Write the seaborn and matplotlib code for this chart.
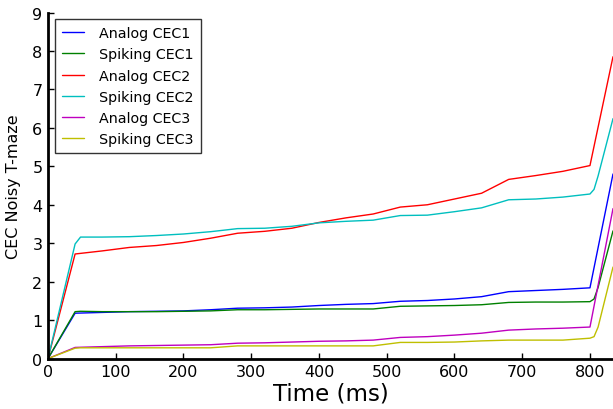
import numpy as np
import pandas as pd
import matplotlib
matplotlib.use("Agg")
import matplotlib.pyplot as plt
import seaborn as sns

# time grids (ms)
t_analog = [0, 40, 80, 120, 160, 200, 240, 280, 320, 360, 400, 440, 480,
            520, 560, 600, 640, 680, 720, 760, 800, 834]
t_spiking = [0, 40, 48, 80, 120, 160, 200, 240, 280, 320, 360, 400, 440, 480,
             520, 560, 600, 640, 680, 720, 760, 800, 806, 812, 834]

analog_cec1 = [0, 1.18, 1.20, 1.22, 1.23, 1.24, 1.27, 1.31, 1.32, 1.34, 1.38, 1.41,
               1.43, 1.49, 1.51, 1.55, 1.61, 1.74, 1.77, 1.80, 1.84, 4.80]
analog_cec2 = [0, 2.72, 2.80, 2.89, 2.94, 3.02, 3.13, 3.26, 3.31, 3.39, 3.54, 3.66,
               3.76, 3.94, 4.00, 4.15, 4.30, 4.66, 4.76, 4.87, 5.02, 7.85]
analog_cec3 = [0, 0.29, 0.31, 0.33, 0.34, 0.35, 0.36, 0.40, 0.41, 0.43, 0.45, 0.46,
               0.48, 0.55, 0.57, 0.61, 0.66, 0.74, 0.77, 0.79, 0.82, 3.90]

spiking_cec1 = [0, 1.22, 1.23, 1.22, 1.22, 1.22, 1.23, 1.24, 1.27, 1.27, 1.28, 1.29,
                1.29, 1.29, 1.36, 1.37, 1.38, 1.40, 1.46, 1.47, 1.47, 1.48, 1.55, 1.85, 3.32]
spiking_cec2 = [0, 2.98, 3.16, 3.16, 3.17, 3.20, 3.24, 3.30, 3.38, 3.39, 3.44, 3.53,
                3.57, 3.60, 3.72, 3.73, 3.82, 3.92, 4.13, 4.15, 4.20, 4.28, 4.40, 4.75, 6.24]
spiking_cec3 = [0, 0.27, 0.28, 0.28, 0.28, 0.28, 0.28, 0.28, 0.33, 0.33, 0.33, 0.33,
                0.33, 0.33, 0.42, 0.42, 0.43, 0.46, 0.48, 0.48, 0.48, 0.53, 0.57, 0.82, 2.38]

labels = ["Analog CEC1", "Spiking CEC1", "Analog CEC2",
          "Spiking CEC2", "Analog CEC3", "Spiking CEC3"]
colors = ["b", "g", "r", "c", "m", "y"]
series = [(t_analog, analog_cec1), (t_spiking, spiking_cec1),
          (t_analog, analog_cec2), (t_spiking, spiking_cec2),
          (t_analog, analog_cec3), (t_spiking, spiking_cec3)]

frames = []
for lab, (t, v) in zip(labels, series):
    frames.append(pd.DataFrame({"time": t, "value": v, "run": lab}))
df = pd.concat(frames, ignore_index=True)

sns.set_style("white")
plt.rcParams["font.family"] = ["DejaVu Sans"]
plt.rcParams["text.color"] = "black"
plt.rcParams["axes.labelcolor"] = "black"
plt.rcParams["xtick.color"] = "black"
plt.rcParams["ytick.color"] = "black"

fig = plt.figure(figsize=(6.13, 4.10), dpi=100)
ax = fig.add_axes([0.0783, 0.123, 0.9217, 0.844])

sns.lineplot(data=df, x="time", y="value", hue="run", hue_order=labels,
             palette=dict(zip(labels, colors)), estimator=None, sort=False,
             linewidth=1.0, ax=ax)

ax.set_xlim(0, 834)
ax.set_ylim(0, 9)
ax.set_xticks(range(0, 801, 100))
ax.set_yticks(range(0, 10))
ax.tick_params(direction="in", length=4, width=1, labelsize=11.5, pad=4,
               colors="black", top=False, right=False, bottom=True, left=True)
for side in ["top", "right"]:
    ax.spines[side].set_visible(False)
for side in ["left", "bottom"]:
    ax.spines[side].set_linewidth(2)
    ax.spines[side].set_color("black")

ax.set_xlabel("Time (ms)", fontsize=16.5, labelpad=2, color="black")
ax.set_ylabel("CEC Noisy T-maze", fontsize=11.5, labelpad=8, color="black")

leg = ax.legend(loc="upper left", fontsize=10.3, frameon=True, fancybox=False,
                handlelength=1.5, handletextpad=1.1, borderpad=0.5,
                labelspacing=0.5, borderaxespad=0,
                bbox_to_anchor=(0.0124, 0.981))
leg.get_frame().set_edgecolor("black")
leg.get_frame().set_linewidth(1.0)
for txt in leg.get_texts():
    txt.set_color("black")

fig.savefig("out.png", dpi=100)
